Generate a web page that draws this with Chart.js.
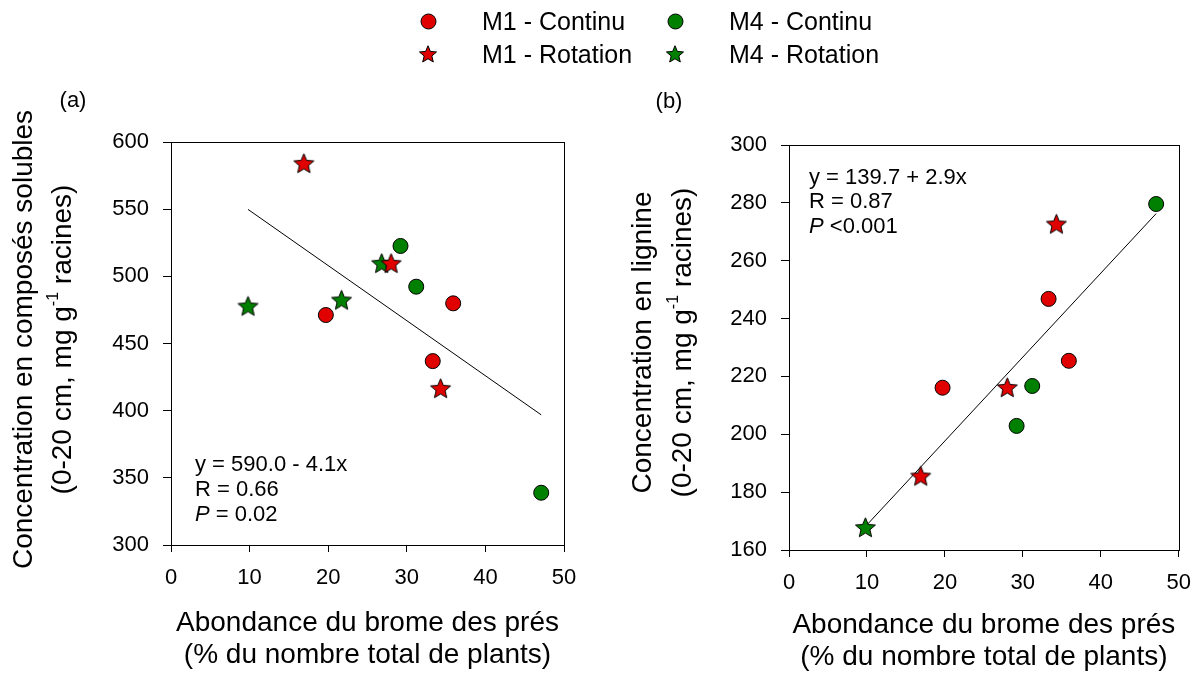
<!DOCTYPE html>
<html>
<head>
<meta charset="utf-8">
<script src="https://cdn.jsdelivr.net/npm/chart.js@4/dist/chart.umd.min.js"></script>
<style>
  html, body { margin: 0; padding: 0; background: #fff; }
  #page { position: relative; width: 1204px; height: 675px; overflow: hidden;
          font-family: "Liberation Sans", Arial, Helvetica, sans-serif; }
  .panel { position: absolute; top: 0; height: 675px; }
  #wrapA { left: 0; width: 610px; }
  #wrapB { left: 610px; width: 594px; }
  .legText { position: absolute; font-size: 25px; line-height: 25px; color: #000; white-space: nowrap; }
  .legSym { position: absolute; }
</style>
</head>
<body>
<div id="page">
  <div class="panel" id="wrapA"><canvas id="chartA"></canvas></div>
  <div class="panel" id="wrapB"><canvas id="chartB"></canvas></div>
  <div id="legend"></div>
</div>
<script>
// Abondance du brome des prés (% du nombre total de plants), one value per plot
const xM1Continu  = [19.7, 33.3, 35.9];
const xM1Rotation = [16.9, 28.0, 34.3];
const xM4Continu  = [29.2, 31.2, 47.1];
const xM4Rotation = [9.8, 21.7, 26.8];

// (a) Concentration en composés solubles (mg g-1 racines)
const solM1Continu  = [471.2, 436.9, 479.9];
const solM1Rotation = [584.1, 509.7, 416.6];
const solM4Continu  = [522.6, 492.3, 338.9];
const solM4Rotation = [477.9, 482.4, 509.7];

// (b) Concentration en lignine (mg g-1 racines); null = no measurement
const ligM1Continu  = [216.1, 246.8, 225.4];
const ligM1Rotation = [185.6, 216.2, 272.7];
const ligM4Continu  = [202.9, 216.7, 279.6];
const ligM4Rotation = [167.8, null, null];

// Regression fits: [intercept, slope], drawn over the observed x range
const fitSolubles = [590.0, -4.1];
const fitLignine  = [139.7, 2.9];
const fitRange    = [9.8, 47.1];

const xTicks = [0, 10, 20, 30, 40, 50];
const yTicksSolubles = [300, 350, 400, 450, 500, 550, 600];
const yTicksLignine  = [160, 180, 200, 220, 240, 260, 280, 300];

const seriesLabels = ['M1 - Continu', 'M4 - Continu', 'M1 - Rotation', 'M4 - Rotation'];

const FONT = '"Liberation Sans", Arial, Helvetica, sans-serif';
const RED = '#E00000';
const GREEN = '#008000';

function starImage(fill, outer) {
  const size = Math.ceil(outer * 2 + 4);
  const c = document.createElement('canvas');
  c.width = size; c.height = size;
  const g = c.getContext('2d');
  const cx = size / 2, cy = size / 2 + outer * 0.08;
  const inner = outer * 0.45;
  g.beginPath();
  for (let i = 0; i < 10; i++) {
    const r = i % 2 === 0 ? outer : inner;
    const a = -Math.PI / 2 + i * Math.PI / 5;
    const px = cx + r * Math.cos(a), py = cy + r * Math.sin(a);
    if (i === 0) g.moveTo(px, py); else g.lineTo(px, py);
  }
  g.closePath();
  g.fillStyle = fill; g.fill();
  g.lineWidth = 1; g.strokeStyle = '#000'; g.lineJoin = 'miter'; g.stroke();
  return c;
}

function circleImage(fill, radius) {
  const size = Math.ceil(radius * 2 + 4);
  const c = document.createElement('canvas');
  c.width = size; c.height = size;
  const g = c.getContext('2d');
  g.beginPath();
  g.arc(size / 2, size / 2, radius, 0, Math.PI * 2);
  g.fillStyle = fill; g.fill();
  g.lineWidth = 1; g.strokeStyle = '#000'; g.stroke();
  return c;
}

const starRed = starImage(RED, 10.5);
const starGreen = starImage(GREEN, 10.5);

function points(xs, ys) {
  return xs.map((x, i) => ({ x: x, y: ys[i] })).filter(p => p.y !== null);
}
function fitLine(fit) {
  return fitRange.map(x => ({ x: x, y: fit[0] + fit[1] * x }));
}

function datasets(m1c, m1r, m4c, m4r, fit) {
  const circle = (fill) => ({ pointStyle: 'circle', pointRadius: 7.5, pointHoverRadius: 7.5,
    backgroundColor: fill, borderColor: '#000', borderWidth: 1, order: 1 });
  const star = (img) => ({ pointStyle: img, pointRadius: 10, pointHoverRadius: 10, order: 1 });
  return [
    Object.assign({ label: seriesLabels[0], data: points(xM1Continu, m1c) }, circle(RED)),
    Object.assign({ label: seriesLabels[1], data: points(xM4Continu, m4c) }, circle(GREEN)),
    Object.assign({ label: seriesLabels[2], data: points(xM1Rotation, m1r) }, star(starRed)),
    Object.assign({ label: seriesLabels[3], data: points(xM4Rotation, m4r) }, star(starGreen)),
    { label: 'fit', data: fitLine(fit), showLine: true, pointRadius: 0, pointHoverRadius: 0,
      borderColor: '#000', borderWidth: 1, fill: false, order: 5 }
  ];
}

// Box around the plotting area
const framePlugin = {
  id: 'frame',
  afterDatasetsDraw(chart) {
    const { ctx, chartArea: a } = chart;
    ctx.save();
    ctx.strokeStyle = '#000';
    ctx.lineWidth = 1;
    const l = Math.round(a.left) + 0.5, t = Math.round(a.top) + 0.5;
    const r = Math.round(a.right) + 0.5, b = Math.round(a.bottom) + 0.5;
    ctx.strokeRect(l, t, r - l, b - t);
    ctx.restore();
  }
};

// Vertical axis title with superscript unit
const yTitlePlugin = {
  id: 'yTitle',
  afterDraw(chart, args, o) {
    const { ctx, chartArea: a } = chart;
    const cy = (a.top + a.bottom) / 2 + o.dy;
    ctx.save();
    ctx.fillStyle = '#000';
    ctx.textBaseline = 'middle';
    ctx.font = '28px ' + FONT;
    ctx.translate(o.x1, cy);
    ctx.rotate(-Math.PI / 2);
    ctx.textAlign = 'center';
    ctx.fillText(o.line1, 0, 0);
    ctx.restore();

    ctx.save();
    ctx.fillStyle = '#000';
    ctx.textBaseline = 'alphabetic';
    ctx.textAlign = 'left';
    const mainFont = '28px ' + FONT, supFont = '16px ' + FONT;
    ctx.font = mainFont; const w1 = ctx.measureText(o.pre).width;
    ctx.font = supFont;  const w2 = ctx.measureText(o.sup).width;
    ctx.font = mainFont; const w3 = ctx.measureText(o.post).width;
    const total = w1 + w2 + w3;
    ctx.translate(o.x2, cy);
    ctx.rotate(-Math.PI / 2);
    let x = -total / 2;
    const base = 10;
    ctx.font = mainFont; ctx.fillText(o.pre, x, base); x += w1;
    ctx.font = supFont;  ctx.fillText(o.sup, x, base - 13); x += w2;
    ctx.font = mainFont; ctx.fillText(o.post, x, base);
    ctx.restore();
  }
};

// Panel letter and regression statistics
const notesPlugin = {
  id: 'notes',
  afterDraw(chart, args, o) {
    const { ctx } = chart;
    ctx.save();
    ctx.fillStyle = '#000';
    ctx.textBaseline = 'middle';
    ctx.textAlign = 'center';
    ctx.font = '22px ' + FONT;
    ctx.fillText(o.panel.text, o.panel.x, o.panel.y);
    ctx.textAlign = 'left';
    o.lines.forEach(line => {
      let x = o.x;
      line.segs.forEach(s => {
        ctx.font = (s.italic ? 'italic ' : '') + '22px ' + FONT;
        ctx.fillText(s.t, x, line.y);
        x += ctx.measureText(s.t).width;
      });
    });
    ctx.restore();
  }
};

function makeChart(canvasId, data, yMin, yMax, yStep, yTicks, cfg) {
  const tickFont = { family: FONT, size: 22 };
  const grid = { display: true, drawOnChartArea: false, drawTicks: true, tickLength: 7, color: '#000', lineWidth: 1 };
  return new Chart(document.getElementById(canvasId), {
    type: 'scatter',
    data: { datasets: data },
    options: {
      responsive: true,
      maintainAspectRatio: false,
      animation: false,
      events: [],
      layout: { padding: { left: 0, top: cfg.top, right: cfg.right, bottom: 0 } },
      plugins: {
        legend: { display: false },
        tooltip: { enabled: false },
        yTitle: cfg.yTitle,
        notes: cfg.notes
      },
      scales: {
        x: {
          type: 'linear', min: 0, max: 50,
          afterBuildTicks: s => { s.ticks = xTicks.map(v => ({ value: v })); },
          ticks: { color: '#000', font: tickFont, padding: 13, maxRotation: 0, autoSkip: false },
          grid: grid,
          border: { display: true, color: '#000', width: 1 },
          title: { display: true, text: ['Abondance du brome des prés', '(% du nombre total de plants)'],
                   color: '#000', font: { family: FONT, size: 28, lineHeight: 1.143 }, padding: { top: 0, bottom: cfg.xTitlePad } },
          afterFit: s => { s.height = cfg.xHeight; }
        },
        y: {
          type: 'linear', min: yMin, max: yMax,
          afterBuildTicks: s => { s.ticks = yTicks.map(v => ({ value: v })); },
          ticks: { color: '#000', font: tickFont, padding: 14, autoSkip: false },
          grid: Object.assign({}, grid, { tickLength: 8 }),
          border: { display: true, color: '#000', width: 1 },
          title: { display: false },
          afterFit: s => { s.width = cfg.yWidth; }
        }
      }
    },
    plugins: [framePlugin, yTitlePlugin, notesPlugin]
  });
}

makeChart('chartA',
  datasets(solM1Continu, solM1Rotation, solM4Continu, solM4Rotation, fitSolubles),
  300, 600, 50, yTicksSolubles,
  {
    top: 142, right: 46, xHeight: 130, yWidth: 171, xTitlePad: 4,
    yTitle: { x1: 24, x2: 61, dy: -4, line1: 'Concentration en composés solubles',
              pre: '(0-20 cm, mg g', sup: '-1', post: ' racines)' },
    notes: {
      panel: { text: '(a)', x: 73, y: 101 },
      x: 195,
      lines: [
        { y: 465, segs: [{ t: 'y = ' + fitSolubles[0].toFixed(1) + ' - ' + Math.abs(fitSolubles[1]).toFixed(1) + 'x' }] },
        { y: 490, segs: [{ t: 'R = 0.66' }] },
        { y: 515, segs: [{ t: 'P', italic: true }, { t: ' = 0.02' }] }
      ]
    }
  });

makeChart('chartB',
  datasets(ligM1Continu, ligM1Rotation, ligM4Continu, ligM4Rotation, fitLignine),
  160, 300, 20, yTicksLignine,
  {
    top: 145, right: 21, xHeight: 125, yWidth: 179, xTitlePad: 2,
    yTitle: { x1: 33, x2: 71, dy: -5, line1: 'Concentration en lignine',
              pre: '(0-20 cm, mg g', sup: '-1', post: ' racines)' },
    notes: {
      panel: { text: '(b)', x: 59, y: 102 },
      x: 199,
      lines: [
        { y: 178, segs: [{ t: 'y = ' + fitLignine[0].toFixed(1) + ' + ' + fitLignine[1].toFixed(1) + 'x' }] },
        { y: 202, segs: [{ t: 'R = 0.87' }] },
        { y: 227, segs: [{ t: 'P', italic: true }, { t: ' <0.001' }] }
      ]
    }
  });

// Legend: two columns, circles for continuous, stars for rotation
(function buildLegend() {
  const legend = document.getElementById('legend');
  const cols = [428, 675];
  const rows = [21, 54];
  const textOffset = 54;
  const syms = [circleImage(RED, 7.5), circleImage(GREEN, 7.5), starImage(RED, 9), starImage(GREEN, 9)];
  seriesLabels.forEach((label, i) => {
    const cx = cols[i % 2], cy = rows[Math.floor(i / 2)];
    const sym = syms[i];
    sym.className = 'legSym';
    sym.style.left = (cx - sym.width / 2) + 'px';
    sym.style.top = (cy - sym.height / 2) + 'px';
    legend.appendChild(sym);
    const span = document.createElement('div');
    span.className = 'legText';
    span.textContent = label;
    span.style.left = (cx + textOffset) + 'px';
    span.style.top = (cy - 12.5) + 'px';
    legend.appendChild(span);
  });
})();
</script>
</body>
</html>
